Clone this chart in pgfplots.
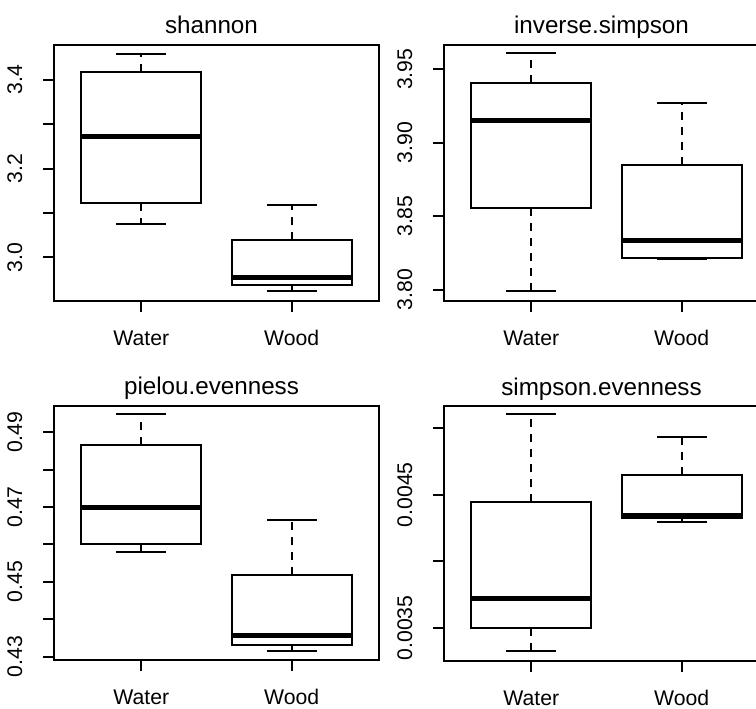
\documentclass[border=0pt]{standalone}
\usepackage{pgfplots}
\pgfplotsset{compat=1.18}
\usepgfplotslibrary{statistics}
\usepackage{fontspec}
\setmainfont{Liberation Sans}
\newcommand{\yl}[1]{\raisebox{10.5pt}{#1}}
\begin{document}
\begin{tikzpicture}
\useasboundingbox (0pt,0pt) rectangle (378pt,354pt);
\clip (0pt,0pt) rectangle (378pt,354pt);
\pgfplotsset{
  rbox/.style={
    scale only axis, anchor=south west,
    width=162.5pt,
    xmin=0.42, xmax=2.58,
    xtick={1,2}, xticklabels={Water,Wood},
    tick align=outside, tick pos=left,
    major tick length=5.5pt,
    every tick/.style={black, line width=1pt},
    axis line style={line width=1pt},
    scaled y ticks=false,
    font=\fontsize{10.6}{12}\selectfont,
    title style={font=\fontsize{12.1}{14}\selectfont, at={(0.5,1)}, anchor=base, yshift=-0.5pt, xshift=-2.5pt},
    yticklabel style={rotate=90, anchor=base, /pgf/number format/assume math mode=true},
    xticklabel style={anchor=north, text height=7.6pt, text depth=0pt, /pgf/number format/assume math mode=true},
    xticklabel shift=5.5pt,
    boxplot/draw direction=y,
    boxplot/box extend=0.8,
    boxplot/whisker extend=0.33,
    boxplot/every box/.style={draw=black, line width=1pt, fill=white},
    boxplot/every median/.style={draw=black, line width=2.5pt},
    boxplot/draw/lower whisker/.code={%
      \draw[black, line width=1pt, dash pattern=on 4pt off 3.5pt]
        (boxplot box cs:\pgfplotsboxplotvalue{lower quartile},0.5) --
        (boxplot box cs:\pgfplotsboxplotvalue{lower whisker},0.5);
      \draw[black, line width=1pt]
        (boxplot whisker cs:\pgfplotsboxplotvalue{lower whisker},0) --
        (boxplot whisker cs:\pgfplotsboxplotvalue{lower whisker},1);
    },
    boxplot/draw/upper whisker/.code={%
      \draw[black, line width=1pt, dash pattern=on 4pt off 3.5pt]
        (boxplot box cs:\pgfplotsboxplotvalue{upper quartile},0.5) --
        (boxplot box cs:\pgfplotsboxplotvalue{upper whisker},0.5);
      \draw[black, line width=1pt]
        (boxplot whisker cs:\pgfplotsboxplotvalue{upper whisker},0) --
        (boxplot whisker cs:\pgfplotsboxplotvalue{upper whisker},1);
    },
  }
}
% shannon
\begin{axis}[rbox, at={(27pt,203.5pt)}, height=128pt, title={shannon},
  ymin=2.902, ymax=3.478,
  ytick={3.0,3.1,3.2,3.3,3.4}, yticklabels={\yl{3.0},{},\yl{3.2},{},\yl{3.4}}]
\addplot[black, boxplot prepared={draw position=1, lower whisker=3.075, lower quartile=3.123, median=3.272, upper quartile=3.418, upper whisker=3.458}] coordinates {};
\addplot[black, boxplot prepared={draw position=2, lower whisker=2.924, lower quartile=2.937, median=2.955, upper quartile=3.039, upper whisker=3.118}] coordinates {};
\end{axis}
% inverse.simpson
\begin{axis}[rbox, at={(222pt,203.5pt)}, height=128pt, title={inverse.simpson},
  ymin=3.7922, ymax=3.9665,
  ytick={3.80,3.85,3.90,3.95}, yticklabels={\yl{3.80},\yl{3.85},\yl{3.90},\yl{3.95}}]
\addplot[black, boxplot prepared={draw position=1, lower whisker=3.7989, lower quartile=3.8552, median=3.9154, upper quartile=3.9405, upper whisker=3.9609}] coordinates {};
\addplot[black, boxplot prepared={draw position=2, lower whisker=3.8207, lower quartile=3.8218, median=3.8336, upper quartile=3.8848, upper whisker=3.9272}] coordinates {};
\end{axis}
% pielou.evenness
\begin{axis}[rbox, at={(27pt,24pt)}, height=127pt, title={pielou.evenness},
  ymin=0.4291, ymax=0.4970,
  ytick={0.43,0.44,0.45,0.46,0.47,0.48,0.49}, yticklabels={\yl{0.43},{},\yl{0.45},{},\yl{0.47},{},\yl{0.49}}]
\addplot[black, boxplot prepared={draw position=1, lower whisker=0.4580, lower quartile=0.4601, median=0.4700, upper quartile=0.4865, upper whisker=0.4948}] coordinates {};
\addplot[black, boxplot prepared={draw position=2, lower whisker=0.4316, lower quartile=0.4331, median=0.4356, upper quartile=0.4518, upper whisker=0.4665}] coordinates {};
\end{axis}
% simpson.evenness
\begin{axis}[rbox, at={(222pt,23.5pt)}, height=127.5pt, title={simpson.evenness},
  ymin=0.003252, ymax=0.005165,
  ytick={0.0035,0.004,0.0045,0.005}, yticklabels={\yl{0.0035},{},\yl{0.0045},{}}]
\addplot[black, boxplot prepared={draw position=1, lower whisker=0.003325, lower quartile=0.003500, median=0.003718, upper quartile=0.004442, upper whisker=0.005105}] coordinates {};
\addplot[black, boxplot prepared={draw position=2, lower whisker=0.004295, lower quartile=0.004325, median=0.004345, upper quartile=0.004650, upper whisker=0.004930}] coordinates {};
\end{axis}
\end{tikzpicture}
\end{document}
